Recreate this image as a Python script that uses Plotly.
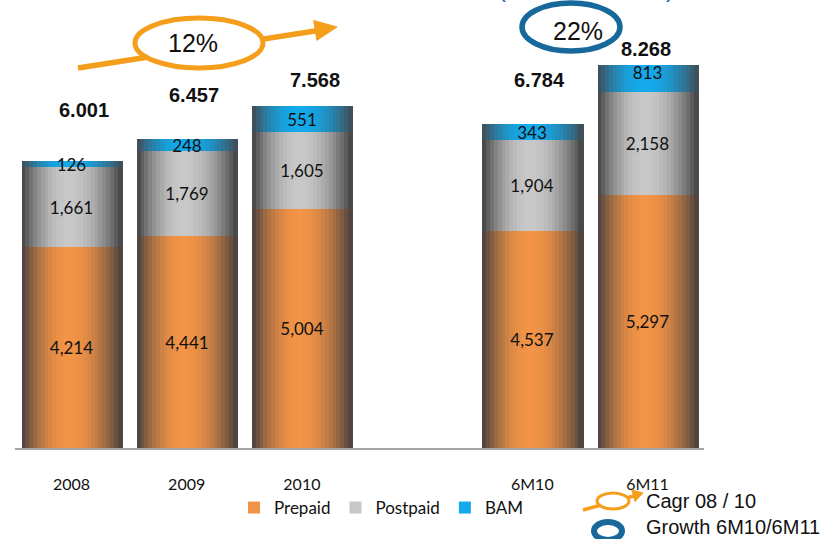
import plotly.graph_objects as go

# ---------------- data ----------------
categories = ["2008", "2009", "2010", "6M10", "6M11"]
cat_pos = [0, 1, 2, 4, 5]          # gap slot between 2010 and 6M10
prepaid = [4214, 4441, 5004, 4537, 5297]
postpaid = [1661, 1769, 1605, 1904, 2158]
bam = [126, 248, 551, 343, 813]
total_labels = ["6.001", "6.457", "7.568", "6.784", "8.268"]
cagr_label = "12%"
growth_label = "22%"

series = [
    ("Prepaid", prepaid, (69, 63, 63), (243, 148, 70)),
    ("Postpaid", postpaid, (64, 64, 64), (200, 200, 200)),
    ("BAM", bam, (66, 74, 82), (20, 170, 235)),
]

# ---------------- geometry helpers (paper coords from pixels) ----------------
W, H = 830, 539
PL, PR, PT, PB = 15, 704, 65, 448


def px(x):
    return (x - PL) / (PR - PL)


def py(y):
    return (PB - y) / (PB - PT)


BW = 0.867
N = 26
C = 0.47


def weight(t):
    d = (t - C) / (C if t < C else 1 - C)
    return max(0.0, 1 - d * d)


def mix(a, b, w):
    return "rgb(%d,%d,%d)" % tuple(round(a[k] + (b[k] - a[k]) * w) for k in range(3))


fig = go.Figure()

bases = [0] * len(categories)
for name, vals, dark, bright in series:
    for i in range(N):
        t = (i + 0.5) / N
        fig.add_trace(go.Bar(
            x=cat_pos, y=vals, base=bases,
            width=BW / N * 1.35, offset=-BW / 2 + i * BW / N,
            marker=dict(color=mix(dark, bright, weight(t)), line=dict(width=0)),
            name=name, legendgroup=name,
            showlegend=(i == int(N * 0.5)),
            hoverinfo="skip",
        ))
    # value labels
    fig.add_trace(go.Bar(
        x=cat_pos, y=vals, base=bases, width=BW,
        marker=dict(color="rgba(0,0,0,0)", line=dict(width=0)),
        text=[f"{v:,}" for v in vals],
        textposition="inside", insidetextanchor="middle",
        constraintext="none",
        textfont=dict(family="Lato", size=17, color="#111111"),
        showlegend=False, legendgroup=name, hoverinfo="skip",
    ))
    bases = [b + v for b, v in zip(bases, vals)]

# ---------------- annotations ----------------
annotations = []
tot_shift = [13, 7, 13, 7, -2]
tot_y = [110, 95, 80, 80, 49]
for p, lab, s, yy in zip(cat_pos, total_labels, tot_shift, tot_y):
    annotations.append(dict(x=p, xref="x", y=py(yy), yref="paper", xshift=s,
                            text=f"<b>{lab}</b>", showarrow=False,
                            font=dict(family="Liberation Sans", size=20, color="#111111"),
                            xanchor="center", yanchor="middle"))


def txt(x, y, s, size, anchor="center", color="#111111", yanchor="middle"):
    annotations.append(dict(x=px(x), y=py(y), xref="paper", yref="paper", text=s,
                            xanchor=anchor, yanchor=yanchor, showarrow=False,
                            font=dict(family="Liberation Sans", size=size, color=color)))


txt(193, 43, cagr_label, 25)
txt(578, 31, growth_label, 25)
txt(644, 501, "Cagr 08 / 10", 20, anchor="left")
txt(644, 527, "Growth 6M10/6M11", 20, anchor="left")
txt(502, 4, "(", 24, color="#2a5a96", yanchor="bottom")
txt(670, 4, ")", 24, color="#2a5a96", yanchor="bottom")

# ---------------- shapes ----------------
ORANGE = "#F59E1B"
BLUE = "#17699C"
shapes = []


def seg(x0, y0, x1, y1, color, w):
    shapes.append(dict(type="line", xref="paper", yref="paper",
                       x0=px(x0), y0=py(y0), x1=px(x1), y1=py(y1),
                       line=dict(color=color, width=w), layer="above"))


def tri(pts, color):
    path = "M " + " L ".join(f"{px(a)},{py(b)}" for a, b in pts) + " Z"
    shapes.append(dict(type="path", xref="paper", yref="paper", path=path,
                       fillcolor=color, line=dict(color=color, width=1), layer="above"))


def ell(cx, cy, rx, ry, color, w):
    shapes.append(dict(type="circle", xref="paper", yref="paper",
                       x0=px(cx - rx), x1=px(cx + rx), y0=py(cy + ry), y1=py(cy - ry),
                       line=dict(color=color, width=w), fillcolor="white", layer="above"))


# big CAGR arrow
seg(78, 68, 318, 30.5, ORANGE, 5.5)
tri([(337, 27), (316.9, 40.3), (313.7, 20.5)], ORANGE)
ell(199, 43, 64, 25, ORANGE, 5)
# growth ring
ell(571, 27, 49, 24, BLUE, 5.5)
# legend icons bottom right
seg(583, 510, 634, 496, ORANGE, 3.5)
tri([(643, 493), (635.0, 501.5), (631.8, 489.9)], ORANGE)
ell(613, 501, 16, 8, ORANGE, 3)
ell(608, 531, 14, 9, BLUE, 6)

fig.update_layout(
    width=W, height=H,
    margin=dict(l=PL, r=W - PR, t=PT, b=H - PB, pad=0),
    paper_bgcolor="white", plot_bgcolor="white",
    barmode="overlay", bargap=0,
    showlegend=True,
    legend=dict(orientation="h", x=px(234), xanchor="left", y=py(508), yanchor="middle",
                font=dict(family="Lato", size=17, color="#111111"),
                itemwidth=30, tracegroupgap=0, bgcolor="rgba(0,0,0,0)"),
    xaxis=dict(range=[-0.49, 5.49], tickvals=cat_pos, ticktext=categories,
               showgrid=False, zeroline=False, showline=True, linecolor="#a6a6a6",
               linewidth=2, ticks="", ticklabelstandoff=21,
               tickfont=dict(family="Lato", size=16, color="#111111"), fixedrange=True),
    yaxis=dict(range=[0, 8013], visible=False, showgrid=False, zeroline=False, fixedrange=True),
    annotations=annotations,
    shapes=shapes,
)

fig.write_html("out.html", config={"displayModeBar": False},
               post_script="document.body.style.margin='0px';")
